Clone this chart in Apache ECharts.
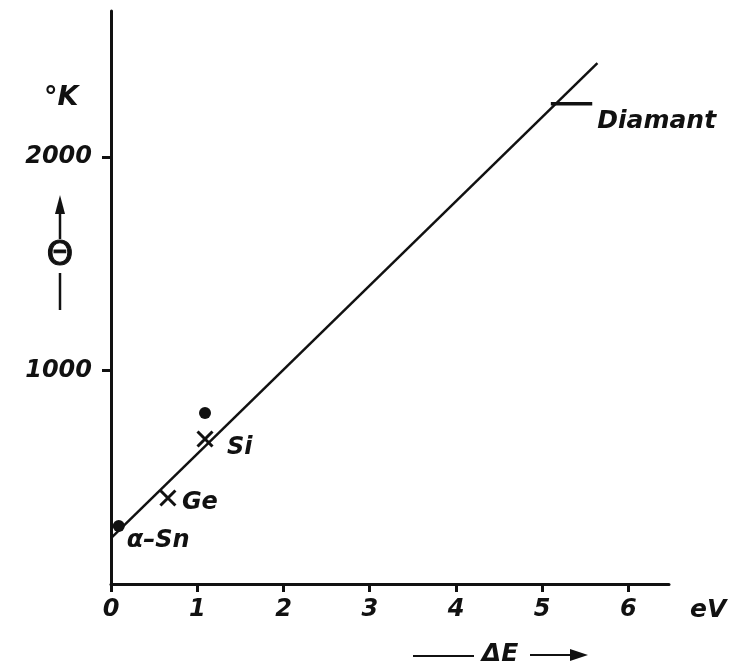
<!DOCTYPE html>
<html>
<head>
<meta charset="utf-8">
<script src="https://cdn.jsdelivr.net/npm/echarts@6/dist/echarts.min.js"></script>
<style>
  html, body { margin: 0; padding: 0; background: #fff; }
  #chart { width: 730px; height: 669px; }
</style>
</head>
<body>
<div id="chart"></div>
<script>
// Debye temperature Θ (°K) against band gap ΔE (eV)
const xTicks = [0, 1, 2, 3, 4, 5, 6];
const yTicks = [1000, 2000];

// measured points drawn as crosses (Ge, Si)
const crossNames = ['Ge', 'Si'];
const crossGap = [0.66, 1.09];
const crossTheta = [403, 679];

// measured points drawn as dots (α-Sn, second Si value)
const dotNames = ['α–Sn', ''];
const dotGap = [0.09, 1.09];
const dotTheta = [272, 801];

// diamond: short horizontal bar
const diamantName = 'Diamant';
const diamantGap = [5.10, 5.58];
const diamantTheta = [2250, 2250];

// straight-line trend
const fitGap = [0, 5.64];
const fitTheta = [215, 2440];

const FONT = 'DejaVu Sans';
const INK = '#111';
const txt = { color: INK, fontFamily: FONT, fontStyle: 'italic', fontWeight: 'bold', fontSize: 24 };

const pairs = (xs, ys, names) => xs.map((x, i) => ({ value: [x, ys[i]], name: names ? names[i] : '' }));

const chart = echarts.init(document.getElementById('chart'), null, { renderer: 'canvas' });

chart.setOption({
  backgroundColor: '#fff',
  animation: false,
  grid: { left: 111, right: 61, top: 11, bottom: 85 },
  xAxis: {
    type: 'value', min: 0, max: 6.47,
    axisLine: { lineStyle: { color: INK, width: 3 } },
    axisTick: { show: true, length: 8, inside: false, customValues: xTicks, lineStyle: { color: INK, width: 3 } },
    axisLabel: Object.assign({ margin: 14, customValues: xTicks, formatter: v => String(v) }, txt),
    splitLine: { show: false }
  },
  yAxis: {
    type: 'value', min: 0, max: 2684,
    axisLine: { show: true, lineStyle: { color: INK, width: 3 } },
    axisTick: { show: true, length: 9, customValues: yTicks, lineStyle: { color: INK, width: 3 } },
    axisLabel: Object.assign({ margin: 19, customValues: yTicks, formatter: v => String(v) }, txt),
    splitLine: { show: false }
  },
  series: [
    {
      type: 'line',
      data: pairs(fitGap, fitTheta),
      showSymbol: false, symbol: 'none',
      lineStyle: { color: INK, width: 2.5 },
      z: 2
    },
    {
      type: 'line',
      data: pairs(diamantGap, diamantTheta, ['', diamantName]),
      symbol: 'none',
      lineStyle: { color: INK, width: 3.5 },
      endLabel: {
        show: true,
        formatter: p => p.name,
        offset: [0, 18],
        distance: 5,
        ...txt,
        fontSize: 25
      },
      z: 3
    },
    {
      type: 'scatter',
      data: pairs(crossGap, crossTheta, crossNames),
      symbol: 'path://M0,0L10,10M10,0L0,10',
      symbolSize: 15,
      itemStyle: { color: 'transparent', borderColor: INK, borderWidth: 3, opacity: 1 },
      label: {
        show: true, position: 'right',
        formatter: p => p.name,
        ...txt
      },
      labelLayout: p => ({ dx: p.dataIndex === 0 ? 0 : 8, dy: p.dataIndex === 0 ? 5 : 9 }),
      z: 4
    },
    {
      type: 'scatter',
      data: pairs(dotGap, dotTheta, dotNames),
      symbol: 'circle',
      symbolSize: 12,
      itemStyle: { color: INK, opacity: 1 },
      label: {
        show: true, position: 'right',
        formatter: p => p.name,
        ...txt
      },
      labelLayout: () => ({ dx: -3, dy: 15 }),
      z: 4
    }
  ],
  graphic: [
    // axis unit and quantity symbol on the left
    { type: 'text', left: 44, top: 84, style: { text: '°K', font: 'italic bold 27px "DejaVu Sans"', fill: INK } },
    { type: 'line', shape: { x1: 60, y1: 310, x2: 60, y2: 210 }, style: { stroke: INK, lineWidth: 2.5 } },
    { type: 'polygon', shape: { points: [[55, 214], [65, 214], [60, 195]] }, style: { fill: INK } },
    { type: 'text', x: 60, y: 256, style: { text: 'Θ', font: '34px "DejaVu Sans"', fill: INK, stroke: INK, lineWidth: 1, align: 'center', verticalAlign: 'middle', backgroundColor: '#fff', padding: [0, 0] } },
    // quantity symbol below the x axis
    { type: 'line', shape: { x1: 413, y1: 656, x2: 474, y2: 656 }, style: { stroke: INK, lineWidth: 2.2 } },
    { type: 'text', x: 500, y: 654, style: { text: 'ΔE', font: 'italic bold 25px "DejaVu Sans"', fill: INK, align: 'center', verticalAlign: 'middle' } },
    { type: 'line', shape: { x1: 530, y1: 655, x2: 575, y2: 655 }, style: { stroke: INK, lineWidth: 2.2 } },
    { type: 'polygon', shape: { points: [[570, 649], [570, 661], [588, 655]] }, style: { fill: INK } },
    // unit on the x axis
    { type: 'text', left: 690, top: 598, style: { text: 'eV', font: 'italic bold 25px "DejaVu Sans"', fill: INK } }
  ]
});
</script>
</body>
</html>
